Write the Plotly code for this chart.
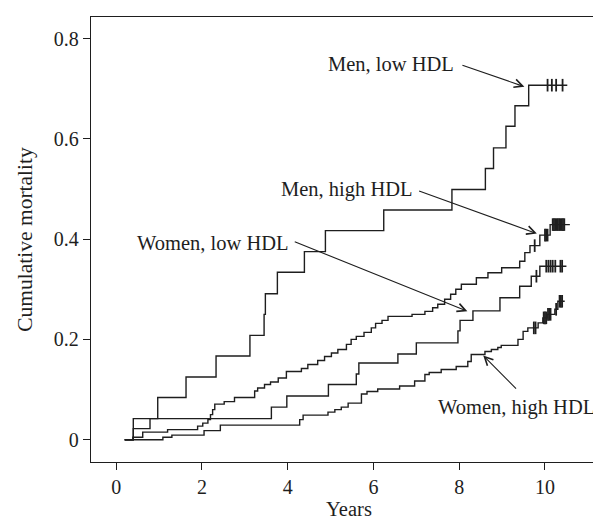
import plotly.graph_objects as go

# ---- data (years, cumulative mortality) ----
start_time = 0.2

men_low_t = [0.40, 0.97, 1.63, 2.33, 3.12, 3.45, 3.48, 3.76, 4.39, 4.88, 6.24, 7.83, 8.61, 8.80, 9.09, 9.30, 9.62]
men_low_y = [0.042, 0.084, 0.125, 0.167, 0.208, 0.250, 0.291, 0.334, 0.375, 0.417, 0.458, 0.499, 0.541, 0.582, 0.625, 0.666, 0.707]
men_low_end = 10.52
men_low_cens = [10.06, 10.16, 10.26, 10.41]

men_high_t = [0.39, 0.62, 1.20, 1.90, 2.02, 2.14, 2.20, 2.25, 2.30, 2.52, 2.76, 3.23, 3.30, 3.46, 3.60, 3.78, 3.97,
              4.32, 4.47, 4.70, 4.86, 5.02, 5.17, 5.37, 5.48, 5.60, 5.78, 5.95, 6.05, 6.20, 6.34, 6.90, 7.20,
              7.38, 7.50, 7.66, 7.80, 7.92, 8.05, 8.40, 8.67, 8.99, 9.41, 9.53, 9.65, 9.88, 10.12]
men_high_y = [0.005, 0.015, 0.020, 0.027, 0.033, 0.040, 0.050, 0.060, 0.071, 0.076, 0.084, 0.097, 0.103, 0.110, 0.115, 0.123, 0.136,
              0.142, 0.150, 0.158, 0.166, 0.173, 0.180, 0.190, 0.200, 0.206, 0.214, 0.223, 0.232, 0.238, 0.246, 0.250, 0.256,
              0.263, 0.270, 0.280, 0.290, 0.300, 0.310, 0.323, 0.333, 0.343, 0.356, 0.373, 0.387, 0.408, 0.429]
men_high_end = 10.58
men_high_cens = [9.76, 10.00, 10.03, 10.06, 10.18, 10.21, 10.24, 10.27, 10.30, 10.33, 10.36, 10.39, 10.42, 10.45]

women_low_t = [0.40, 0.79, 3.62, 3.98, 4.95, 5.60, 5.66, 6.57, 7.00, 7.97, 8.02, 8.32, 8.95, 9.41, 9.68, 9.88]
women_low_y = [0.022, 0.042, 0.065, 0.087, 0.110, 0.131, 0.153, 0.171, 0.193, 0.217, 0.238, 0.257, 0.283, 0.306, 0.326, 0.346]
women_low_end = 10.50
women_low_cens = [9.80, 10.03, 10.08, 10.13, 10.18, 10.24, 10.36, 10.40]

women_high_t = [1.09, 1.30, 2.05, 2.43, 4.28, 4.36, 4.94, 5.10, 5.25, 5.41, 5.72, 5.85, 6.10, 6.61, 6.96, 7.20, 7.30,
                7.58, 7.93, 8.20, 8.28, 8.60, 8.75, 8.90, 8.98, 9.37, 9.49, 9.60, 9.84, 9.95, 10.05, 10.23, 10.30]
women_high_y = [0.005, 0.009, 0.018, 0.029, 0.040, 0.049, 0.055, 0.060, 0.065, 0.073, 0.091, 0.096, 0.101, 0.107, 0.117, 0.130, 0.134,
                0.140, 0.146, 0.156, 0.170, 0.176, 0.180, 0.184, 0.188, 0.200, 0.216, 0.223, 0.233, 0.243, 0.250, 0.260, 0.276]
women_high_end = 10.46
women_high_cens = [9.74, 9.78, 9.97, 10.00, 10.03, 10.07, 10.10, 10.13, 10.26, 10.34, 10.37, 10.40]

x_ticks = [0, 2, 4, 6, 8, 10]
y_ticks = [0, 0.2, 0.4, 0.6, 0.8]
y_tick_labels = ["0", "0.2", "0.4", "0.6", "0.8"]

# labels: (text, text_x, text_y, arrow_tail_x, arrow_tail_y, arrow_head_x, arrow_head_y)
labels = [
    ("Men, low HDL", 6.42, 0.749, 8.04, 0.748, 9.52, 0.704),
    ("Men, high HDL", 5.38, 0.499, 7.03, 0.497, 9.81, 0.411),
    ("Women, low HDL", 2.25, 0.393, 4.13, 0.396, 8.19, 0.256),
    ("Women, high HDL", 9.345, 0.065, 9.36, 0.099, 8.56, 0.168),
]

INK = "#1e1e1e"
FONT = "Liberation Serif"

fig = go.Figure()


def add_curve(t, y, end, cens):
    xs = [start_time] + list(t) + [end]
    ys = [0.0] + list(y) + [y[-1]]
    fig.add_trace(go.Scatter(x=xs, y=ys, mode="lines", line=dict(shape="hv", color=INK, width=1.4),
                             hoverinfo="skip", showlegend=False))
    # censor marks sit on the step function
    cy = []
    for c in cens:
        val = 0.0
        for tt, yy in zip(t, y):
            if tt <= c:
                val = yy
        cy.append(val)
    fig.add_trace(go.Scatter(x=cens, y=cy, mode="markers",
                             marker=dict(symbol="line-ns", size=9, line=dict(color=INK, width=1.8)),
                             hoverinfo="skip", showlegend=False))


add_curve(men_low_t, men_low_y, men_low_end, men_low_cens)
add_curve(men_high_t, men_high_y, men_high_end, men_high_cens)
add_curve(women_low_t, women_low_y, women_low_end, women_low_cens)
add_curve(women_high_t, women_high_y, women_high_end, women_high_cens)

for text, tx, ty, ax, ay, hx, hy in labels:
    fig.add_annotation(x=tx, y=ty, xref="x", yref="y", text=text, showarrow=False,
                       xanchor="center", yanchor="middle", font=dict(family=FONT, size=20.5, color=INK))
    fig.add_annotation(x=hx, y=hy, ax=ax, ay=ay, xref="x", yref="y", axref="x", ayref="y", text="",
                       showarrow=True, arrowhead=5, arrowsize=1.5, arrowwidth=1.1, arrowcolor=INK)

axis_common = dict(showline=True, linecolor=INK, linewidth=1.3, mirror=True, ticks="outside",
                   ticklen=7, tickwidth=1.3, tickcolor=INK, showgrid=False, zeroline=False,
                   tickfont=dict(family=FONT, size=20, color=INK))

fig.update_xaxes(range=[-0.586, 11.446], tickvals=x_ticks,
                 title=dict(text="Years", font=dict(family=FONT, size=20.5, color=INK), standoff=3),
                 **axis_common)
fig.update_yaxes(range=[-0.0445, 0.843], tickvals=y_ticks, ticktext=y_tick_labels,
                 title=dict(text="Cumulative mortality", font=dict(family=FONT, size=21.5, color=INK), standoff=15),
                 **axis_common)

fig.update_layout(width=601, height=520, margin=dict(l=83, r=2, t=9, b=66),
                  paper_bgcolor="white", plot_bgcolor="white", font=dict(family=FONT, color=INK))

fig.write_html("out.html")
